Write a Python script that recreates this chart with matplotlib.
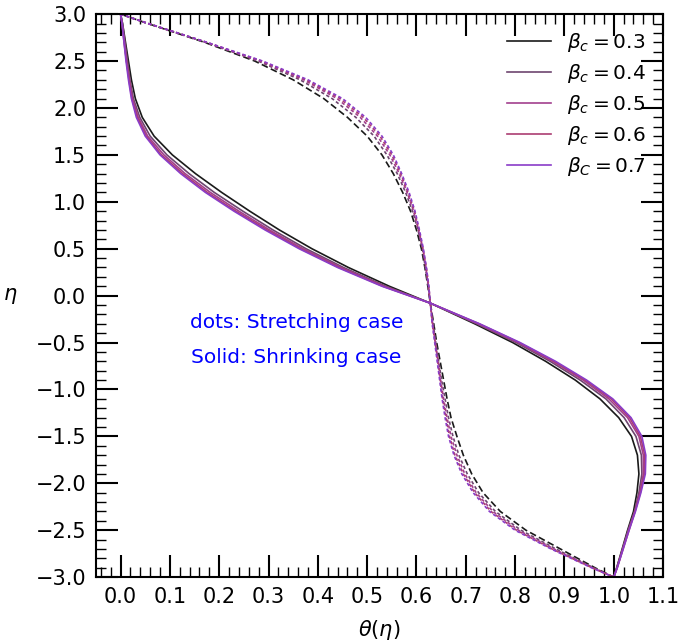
import matplotlib
matplotlib.use("Agg")
import matplotlib.pyplot as plt
from matplotlib.ticker import MultipleLocator

# eta grid (shared by every curve)
eta = [3.0, 2.9, 2.7, 2.5, 2.3, 2.1, 1.9, 1.7, 1.5, 1.3, 1.1, 0.9, 0.7, 0.5, 0.3, 0.1,
       -0.08, -0.3, -0.5, -0.7, -0.9, -1.1, -1.3, -1.5, -1.7, -1.9, -2.1, -2.3, -2.5,
       -2.7, -2.9, -3.0]

beta_c = [0.3, 0.4, 0.5, 0.6, 0.7]
labels = [r'$\beta_c = 0.3$', r'$\beta_c = 0.4$', r'$\beta_c = 0.5$',
          r'$\beta_c = 0.6$', r'$\beta_C = 0.7$']
colors = ['#1a1a1a', '#6e4670', '#a23f8e', '#ab3d72', '#8a3cc8']

# shrinking case (solid)
theta_shrink = [
    [0.000, 0.004, 0.010, 0.016, 0.022, 0.030, 0.044, 0.068, 0.105, 0.152, 0.205, 0.262,
     0.322, 0.388, 0.462, 0.545, 0.628, 0.718, 0.795, 0.862, 0.922, 0.972, 1.010, 1.036,
     1.048, 1.051, 1.047, 1.040, 1.028, 1.017, 1.006, 1.000],
    [0.000, 0.004, 0.009, 0.014, 0.019, 0.026, 0.039, 0.060, 0.094, 0.139, 0.190, 0.248,
     0.309, 0.376, 0.452, 0.538, 0.628, 0.722, 0.802, 0.871, 0.932, 0.984, 1.021, 1.045,
     1.056, 1.057, 1.051, 1.042, 1.029, 1.018, 1.006, 1.000],
    [0.000, 0.003, 0.008, 0.012, 0.018, 0.024, 0.036, 0.055, 0.088, 0.131, 0.182, 0.240,
     0.302, 0.370, 0.447, 0.534, 0.628, 0.725, 0.806, 0.876, 0.938, 0.990, 1.028, 1.051,
     1.060, 1.060, 1.053, 1.043, 1.030, 1.018, 1.007, 1.000],
    [0.000, 0.003, 0.007, 0.012, 0.017, 0.023, 0.034, 0.052, 0.083, 0.126, 0.176, 0.234,
     0.297, 0.365, 0.443, 0.532, 0.628, 0.727, 0.808, 0.879, 0.942, 0.995, 1.032, 1.054,
     1.063, 1.062, 1.054, 1.043, 1.031, 1.019, 1.007, 1.000],
    [0.000, 0.003, 0.007, 0.011, 0.016, 0.022, 0.032, 0.050, 0.080, 0.122, 0.172, 0.230,
     0.293, 0.362, 0.440, 0.530, 0.628, 0.728, 0.810, 0.882, 0.945, 0.998, 1.035, 1.057,
     1.065, 1.064, 1.055, 1.044, 1.031, 1.019, 1.007, 1.000],
]

# stretching case (dashed / dotted)
theta_stretch = [
    [0.000, 0.055, 0.170, 0.272, 0.350, 0.412, 0.460, 0.500, 0.530, 0.553, 0.572, 0.588,
     0.600, 0.610, 0.617, 0.623, 0.628, 0.635, 0.641, 0.648, 0.655, 0.662, 0.670, 0.682,
     0.695, 0.712, 0.735, 0.770, 0.822, 0.892, 0.962, 1.000],
    [0.000, 0.055, 0.172, 0.279, 0.364, 0.429, 0.477, 0.514, 0.540, 0.561, 0.578, 0.592,
     0.603, 0.612, 0.618, 0.624, 0.628, 0.634, 0.639, 0.645, 0.651, 0.658, 0.665, 0.674,
     0.686, 0.703, 0.726, 0.760, 0.812, 0.883, 0.959, 1.000],
    [0.000, 0.056, 0.174, 0.283, 0.371, 0.439, 0.486, 0.521, 0.546, 0.565, 0.581, 0.594,
     0.604, 0.613, 0.619, 0.624, 0.628, 0.633, 0.638, 0.644, 0.649, 0.655, 0.662, 0.670,
     0.682, 0.698, 0.721, 0.755, 0.807, 0.879, 0.957, 1.000],
    [0.000, 0.056, 0.174, 0.286, 0.376, 0.445, 0.492, 0.526, 0.550, 0.568, 0.583, 0.596,
     0.605, 0.613, 0.620, 0.625, 0.628, 0.632, 0.638, 0.643, 0.648, 0.653, 0.660, 0.667,
     0.678, 0.695, 0.718, 0.751, 0.803, 0.875, 0.956, 1.000],
    [0.000, 0.056, 0.175, 0.288, 0.380, 0.450, 0.497, 0.530, 0.553, 0.570, 0.585, 0.597,
     0.606, 0.614, 0.620, 0.625, 0.628, 0.632, 0.637, 0.642, 0.647, 0.652, 0.658, 0.665,
     0.676, 0.692, 0.715, 0.748, 0.800, 0.873, 0.955, 1.000],
]

fig = plt.figure(figsize=(6.85, 6.42), dpi=100)
ax = fig.add_axes([0.140, 0.101, 0.828, 0.877])

for i in range(len(beta_c)):
    ax.plot(theta_shrink[i], eta, color=colors[i], lw=1.2, label=labels[i])
    if i == 0:
        ax.plot(theta_stretch[i], eta, color=colors[i], lw=1.2, dashes=(4, 2))
    else:
        ax.plot(theta_stretch[i], eta, color=colors[i], lw=1.2, dashes=(2, 1.5))

ax.text(0.357, -0.29, 'dots: Stretching case', color='blue', fontsize=14.5,
        ha='center', va='center')
ax.text(0.357, -0.656, 'Solid: Shrinking case', color='blue', fontsize=14.5,
        ha='center', va='center')

ax.set_xlim(-0.05, 1.1)
ax.set_ylim(-3.0, 3.0)
ax.xaxis.set_major_locator(MultipleLocator(0.1))
ax.xaxis.set_minor_locator(MultipleLocator(0.02))
ax.yaxis.set_major_locator(MultipleLocator(0.5))
ax.yaxis.set_minor_locator(MultipleLocator(0.1))
ax.tick_params(which='both', direction='in', top=True, right=True, labelsize=15)
ax.tick_params(which='major', length=16, width=1.5, pad=7)
ax.tick_params(which='minor', length=7, width=1.0)
for sp in ax.spines.values():
    sp.set_linewidth(1.5)

ax.set_xlabel(r'$\theta(\eta)$', fontsize=15, labelpad=8)
ax.set_ylabel(r'$\eta$', fontsize=15, rotation=0, labelpad=18, va='center')

ax.legend(loc='upper right', frameon=False, fontsize=14.5, handlelength=2.2,
          borderaxespad=0.45, labelspacing=0.4)

plt.savefig('out.png', dpi=100)
